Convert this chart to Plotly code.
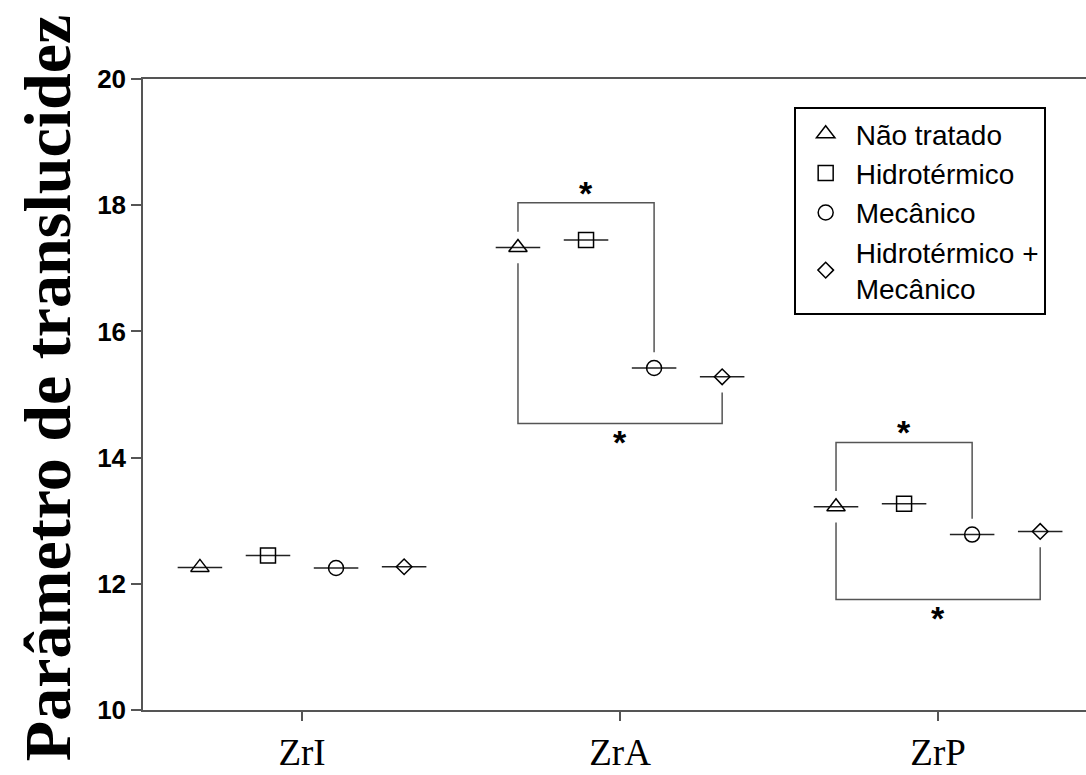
import plotly.graph_objects as go

# ---------------- data ----------------
categories = ["ZrI", "ZrA", "ZrP"]
series_names = ["Não tratado", "Hidrotérmico", "Mecânico", "Hidrotérmico +<br>Mecânico"]
nao_tratado = [12.26, 17.33, 13.22]
hidrotermico = [12.45, 17.45, 13.27]
mecanico = [12.25, 15.42, 12.78]
hidro_mecanico = [12.27, 15.28, 12.83]
y_ticks = [10, 12, 14, 16, 18, 20]

# significance brackets: (category index, series a, series b, bracket level, star side)
brackets = [
    (1, 0, 2, 18.04, "above"),
    (1, 0, 3, 14.54, "below"),
    (2, 0, 2, 14.24, "above"),
    (2, 0, 3, 11.75, "below"),
]

# ---------------- style ----------------
all_values = [nao_tratado, hidrotermico, mecanico, hidro_mecanico]
symbols = ["triangle-up-open", "square-open", "circle-open", "diamond-open"]
sizes = [16, 15, 15, 12]
offsets = [-1.5, -0.5, 0.5, 1.5]
step = 0.214
half_w = 0.07
gap = 0.25
axis_col = "#555555"

fig = go.Figure()

def xpos(ci, si):
    return ci + offsets[si] * step

# mean lines
for si, vals in enumerate(all_values):
    xs, ys = [], []
    for ci, v in enumerate(vals):
        xc = xpos(ci, si)
        xs += [xc - half_w, xc + half_w, None]
        ys += [v, v, None]
    fig.add_trace(go.Scatter(x=xs, y=ys, mode="lines", line=dict(color="#222222", width=1.5),
                             showlegend=False, hoverinfo="skip"))

# brackets
for ci, sa, sb, level, side in brackets:
    xa, xb = xpos(ci, sa), xpos(ci, sb)
    va, vb = all_values[sa][ci], all_values[sb][ci]
    if side == "above":
        ea, eb = va + gap, vb + gap
    else:
        ea, eb = va - gap, vb - gap
    fig.add_trace(go.Scatter(x=[xa, xa, xb, xb], y=[ea, level, level, eb], mode="lines",
                             line=dict(color=axis_col, width=1.5), showlegend=False, hoverinfo="skip"))
    fig.add_annotation(x=(xa + xb) / 2, y=level, text="<b>*</b>", showarrow=False,
                       font=dict(family="Liberation Sans, Arial", size=34, color="black"),
                       xanchor="center", yanchor="middle",
                       yshift=10 if side == "above" else -18)

# markers
for si, vals in enumerate(all_values):
    fig.add_trace(go.Scatter(
        x=[xpos(ci, si) for ci in range(len(categories))], y=vals, mode="markers",
        name=series_names[si],
        marker=dict(symbol=symbols[si], size=sizes[si], color="black", line=dict(color="black", width=1.5)),
    ))

fig.update_layout(
    width=1086, height=775,
    margin=dict(l=143, r=0, t=79, b=65),
    paper_bgcolor="white", plot_bgcolor="white",
    showlegend=True,
    legend=dict(x=0.690, y=0.9556, xanchor="left", yanchor="top",
                bordercolor="black", borderwidth=2, bgcolor="white",
                font=dict(family="Liberation Sans, Arial", size=28, color="black"),
                itemsizing="trace", itemwidth=50),
)
fig.update_xaxes(
    range=[-0.5, 2.465], tickmode="array", tickvals=list(range(len(categories))), ticktext=categories,
    showline=True, linecolor=axis_col, linewidth=1.5, mirror=True,
    ticks="outside", ticklen=9, tickcolor=axis_col, tickwidth=1.5,
    showgrid=False, zeroline=False,
    tickfont=dict(family="Liberation Serif, Times New Roman", size=37, color="black"),
)
fig.update_yaxes(
    range=[10, 20], tickmode="array", tickvals=y_ticks,
    showline=True, linecolor=axis_col, linewidth=1.5,
    ticks="outside", ticklen=10, tickcolor=axis_col, tickwidth=1.5,
    showgrid=False, zeroline=False,
    tickfont=dict(family="Liberation Sans, Arial", size=26, color="black", weight="bold"),
)
fig.add_annotation(xref="paper", yref="paper", x=(47 - 143) / 943, y=0.51,
                   text="<b>Parâmetro de translucidez</b>", textangle=-90, showarrow=False,
                   xanchor="center", yanchor="middle",
                   font=dict(family="Liberation Serif, Times New Roman", size=66, color="black"))

fig.write_html("out.html")
